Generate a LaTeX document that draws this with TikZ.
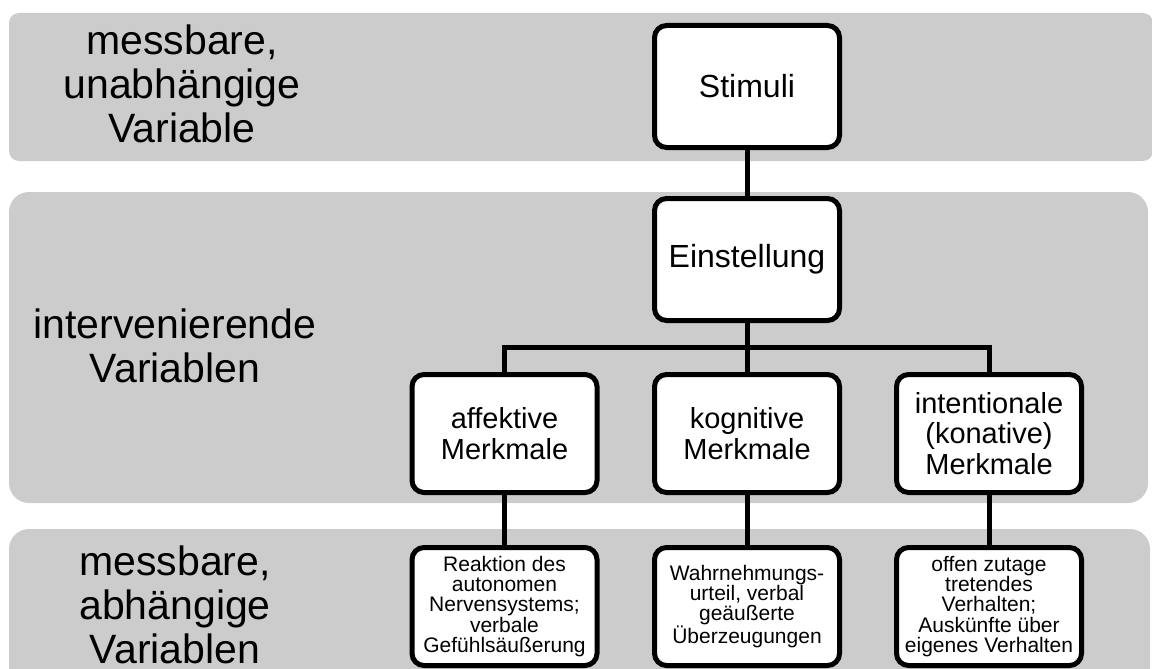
\documentclass[tikz,border=0pt]{standalone}
\usepackage{fontspec}
\setmainfont{Liberation Sans}
\definecolor{bandgray}{RGB}{204,204,204}
\begin{document}
\begin{tikzpicture}[x=1pt,y=-1pt,
  band/.style={fill=bandgray, draw=none},
  box/.style={draw=black, line width=5pt, fill=white, rounded corners=12pt, align=center, inner sep=0pt, minimum width=185pt},
  bigbox/.style={box, minimum height=122pt, font=\fontsize{32}{36}\selectfont},
  midbox/.style={box, minimum height=118pt, font=\fontsize{29}{30.5}\selectfont},
  lowbox/.style={box, minimum height=118pt, font=\fontsize{21}{20.3}\selectfont},
  lab/.style={align=center, inner sep=0pt, font=\fontsize{41}{44}\selectfont},
  conn/.style={line width=5pt, draw=black}]
\useasboundingbox (0,0) rectangle (1152,669);
\clip (0,0) rectangle (1152,669);
% bands
\fill[band, rounded corners=10pt] (9,13) rectangle (1153,161);
\fill[band, rounded corners=20pt] (9,192) rectangle (1148,503);
\fill[band, rounded corners=20pt] (9,529) rectangle (1150,720);
% left labels
\node[lab] (l1) at (182,83.5) {messbare,\\unabhängige\\Variable};
\node[lab] (l2) at (175,346) {intervenierende\\Variablen};
\node[lab] (l3) at (175,605) {messbare,\\abhängige\\Variablen};
% boxes
\node[bigbox] (stim) at (747,86.5) {Stimuli};
\node[bigbox] (einst) at (747,259.5) {Einstellung};
\node[midbox] (aff) at (504.5,433.5) {affektive\\Merkmale};
\node[midbox] (kog) at (747,433.5) {kognitive\\Merkmale};
\node[midbox] (int) at (989,433.5) {intentionale\\(konative)\\Merkmale};
\node[lowbox] (affm) at (504.5,606.5) {Reaktion des\\autonomen\\Nervensystems;\\verbale\\Gefühlsäußerung};
\node[lowbox] (kogm) at (747,606.5) {Wahrnehmungs-\\urteil, verbal\\geäußerte\\Überzeugungen};
\node[lowbox] (intm) at (989,606.5) {offen zutage\\tretendes\\Verhalten;\\Auskünfte über\\eigenes Verhalten};
\coordinate (bar) at (747,347);
% connectors
\draw[conn] (stim) -- (einst);
\draw[conn] (einst) -- (kog);
\draw[conn] (aff) |- (bar) -| (int);
\draw[conn] (aff) -- (affm);
\draw[conn] (kog) -- (kogm);
\draw[conn] (int) -- (intm);
\end{tikzpicture}
\end{document}
